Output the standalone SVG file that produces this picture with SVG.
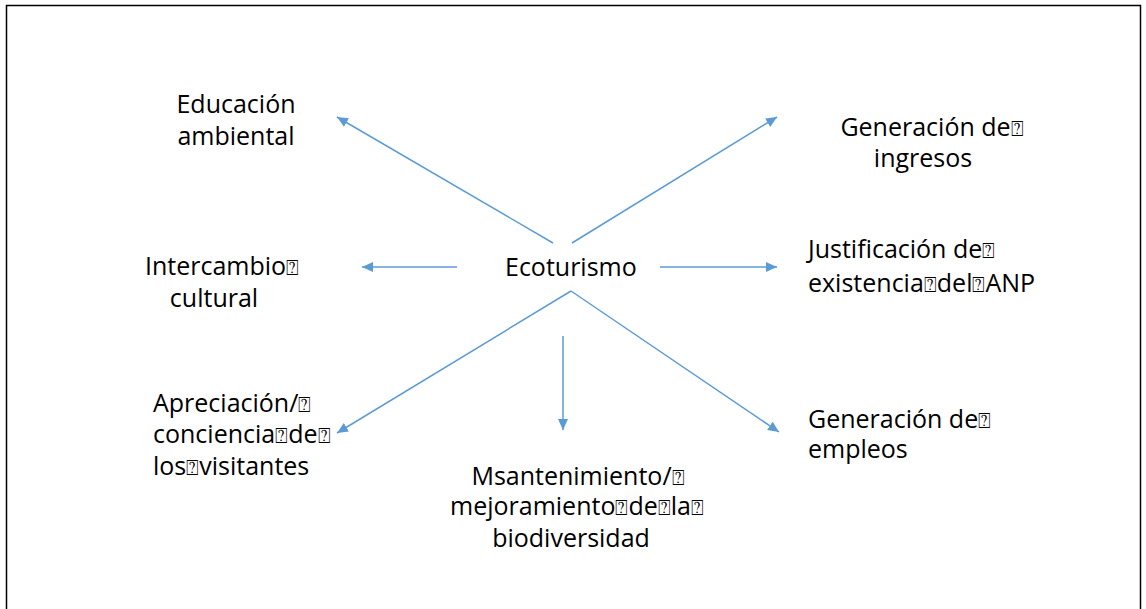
<svg xmlns="http://www.w3.org/2000/svg" width="1146" height="609" viewBox="0 0 1146 609">
<style>
.t{font-family:"Open Sans","Noto Sans","Liberation Sans",sans-serif;font-size:25px;fill:#000}
.q{font-family:"DejaVu Sans",sans-serif;font-size:21px}
.c{text-anchor:middle}
.a{stroke:#5B9BD5;stroke-width:1.5;fill:none;marker-end:url(#ah)}
</style>
<defs>
<marker id="ah" markerUnits="userSpaceOnUse" markerWidth="14" markerHeight="12" refX="11" refY="5" orient="auto">
<path d="M0,0 L11,5 L0,10 Z" fill="#5B9BD5"/>
</marker>
</defs>
<rect x="6.5" y="5.5" width="1134" height="620" fill="#fff" stroke="#000" stroke-width="1.5"/>
<g id="connectors">
<line class="a" x1="553" y1="243" x2="337" y2="117"/>
<line class="a" x1="572" y1="243" x2="777" y2="117"/>
<line class="a" x1="457" y1="267" x2="362" y2="267"/>
<line class="a" x1="660" y1="267" x2="777" y2="267"/>
<line class="a" x1="571" y1="291" x2="337" y2="433"/>
<line class="a" x1="571" y1="291" x2="779" y2="432"/>
<line class="a" x1="563" y1="336" x2="563" y2="430"/>
</g>
<g id="n-center"><text class="t" x="505" y="276">Ecoturismo</text></g>
<g id="n-educacion"><text class="t c" x="236" y="113">Educación</text><text class="t c" x="236" y="145">ambiental</text></g>
<g id="n-ingresos"><text class="t c" x="932" y="136">Generación de<tspan class="q">⍰</tspan></text><text class="t c" x="923" y="167">ingresos</text></g>
<g id="n-intercambio"><text class="t c" x="222" y="275">Intercambio<tspan class="q">⍰</tspan></text><text class="t c" x="214" y="307">cultural</text></g>
<g id="n-justificacion"><text class="t" x="808" y="258">Justificación de<tspan class="q">⍰</tspan></text><text class="t" x="808" y="292">existencia<tspan class="q">⍰</tspan>del<tspan class="q">⍰</tspan>ANP</text></g>
<g id="n-apreciacion"><text class="t" x="153" y="412">Apreciación/<tspan class="q">⍰</tspan></text><text class="t" x="153" y="443">conciencia<tspan class="q">⍰</tspan>de<tspan class="q">⍰</tspan></text><text class="t" x="153" y="475">los<tspan class="q">⍰</tspan>visitantes</text></g>
<g id="n-mantenimiento"><text class="t c" x="578" y="485">Msantenimiento/<tspan class="q">⍰</tspan></text><text class="t c" x="577" y="515">mejoramiento<tspan class="q">⍰</tspan>de<tspan class="q">⍰</tspan>la<tspan class="q">⍰</tspan></text><text class="t c" x="571" y="547">biodiversidad</text></g>
<g id="n-empleos"><text class="t" x="808" y="428">Generación de<tspan class="q">⍰</tspan></text><text class="t" x="808" y="458">empleos</text></g>
</svg>
